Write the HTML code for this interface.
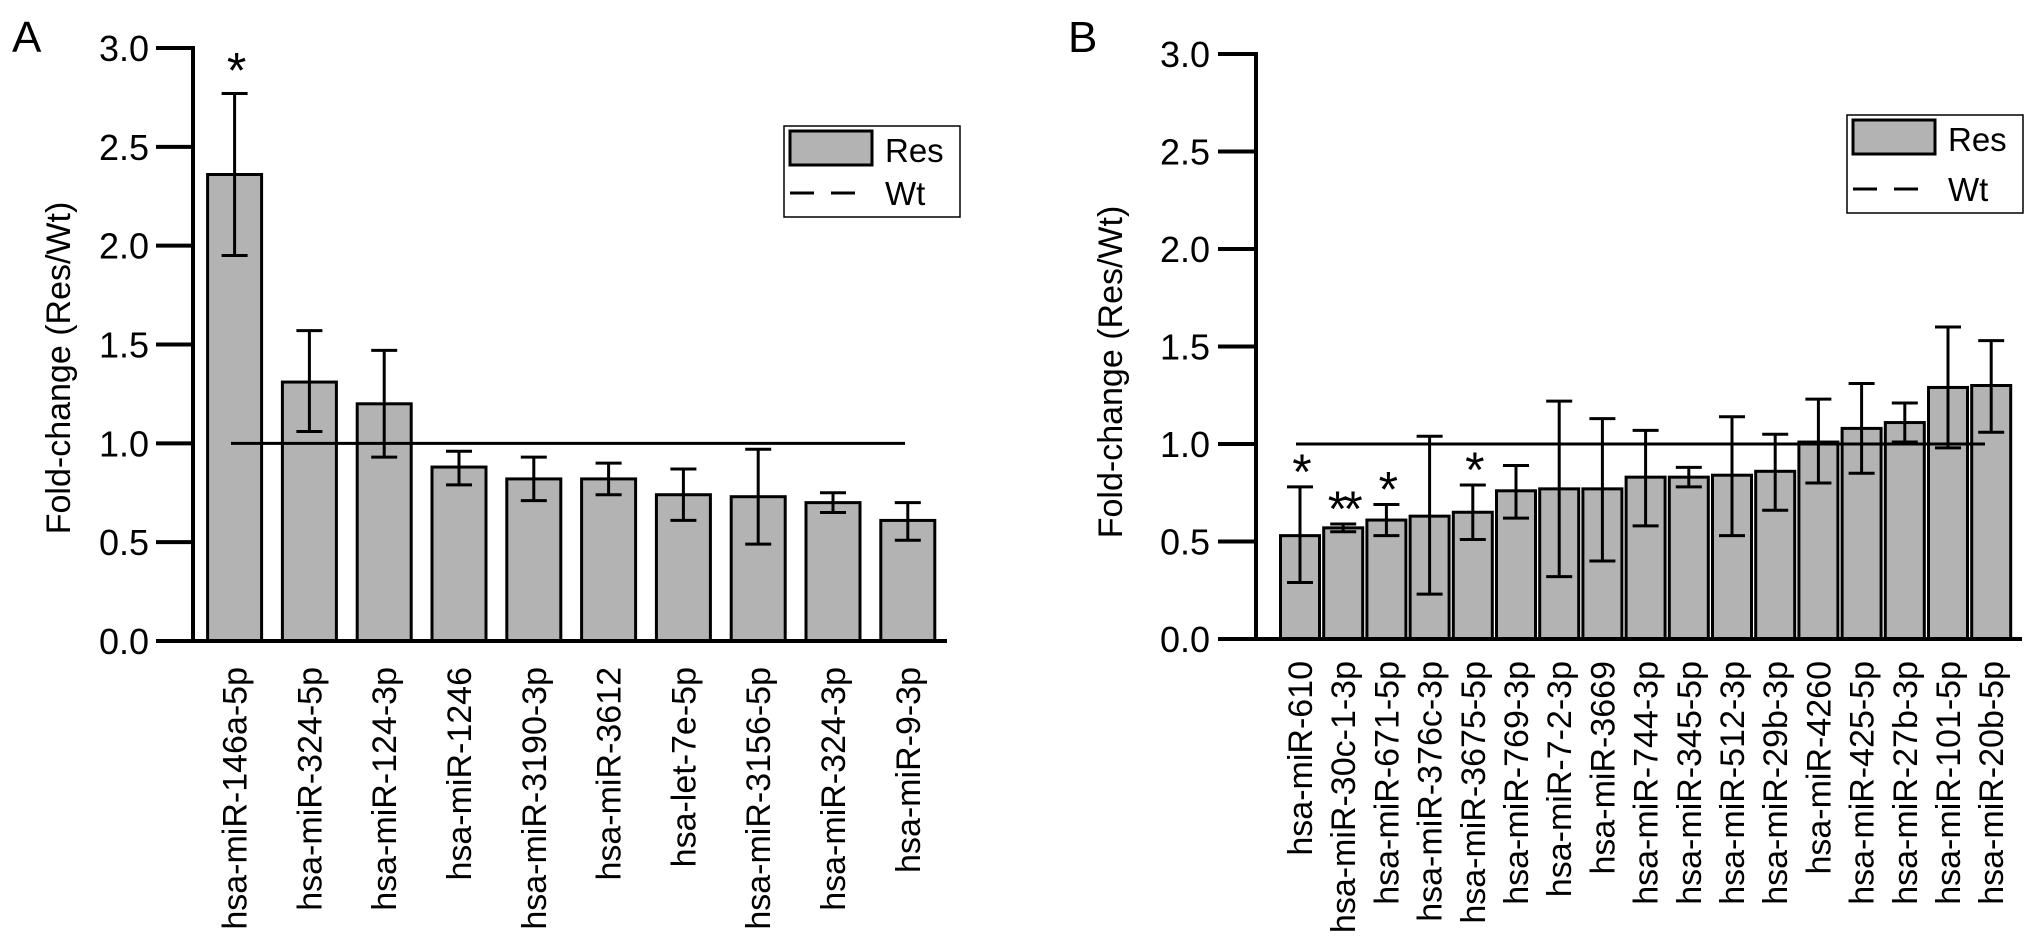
<!DOCTYPE html>
<html><head><meta charset="utf-8"><style>
html,body{margin:0;padding:0;background:#fff;}
svg{display:block;font-family:"Liberation Sans",Arial,sans-serif;}
</style></head><body>
<svg id="fig" width="2032" height="947" viewBox="0 0 2032 947" xmlns="http://www.w3.org/2000/svg">
<text x="12" y="52" font-size="44">A</text>
<text x="1068" y="52" font-size="44">B</text>
</svg>
<script>
const catsA=["hsa-miR-146a-5p","hsa-miR-324-5p","hsa-miR-124-3p","hsa-miR-1246","hsa-miR-3190-3p","hsa-miR-3612","hsa-let-7e-5p","hsa-miR-3156-5p","hsa-miR-324-3p","hsa-miR-9-3p"];
const valsA=[2.36,1.31,1.20,0.88,0.82,0.82,0.74,0.73,0.70,0.61];
const loA=[1.95,1.06,0.93,0.79,0.71,0.74,0.61,0.49,0.65,0.51];
const hiA=[2.77,1.57,1.47,0.96,0.93,0.90,0.87,0.97,0.75,0.70];
const starsA=["*","","","","","","","","",""];
const catsB=["hsa-miR-610","hsa-miR-30c-1-3p","hsa-miR-671-5p","hsa-miR-376c-3p","hsa-miR-3675-5p","hsa-miR-769-3p","hsa-miR-7-2-3p","hsa-miR-3669","hsa-miR-744-3p","hsa-miR-345-5p","hsa-miR-512-3p","hsa-miR-29b-3p","hsa-miR-4260","hsa-miR-425-5p","hsa-miR-27b-3p","hsa-miR-101-5p","hsa-miR-20b-5p"];
const valsB=[0.53,0.57,0.61,0.63,0.65,0.76,0.77,0.77,0.83,0.83,0.84,0.86,1.01,1.08,1.11,1.29,1.30];
const loB=[0.29,0.55,0.53,0.23,0.51,0.62,0.32,0.40,0.58,0.78,0.53,0.66,0.80,0.85,1.01,0.98,1.06];
const hiB=[0.78,0.59,0.69,1.04,0.79,0.89,1.22,1.13,1.07,0.88,1.14,1.05,1.23,1.31,1.21,1.60,1.53];
const starsB=["*","**","*","","*","","","","","","","","","","","",""];
const yTicks=[0,0.5,1.0,1.5,2.0,2.5,3.0];
const wtRef=1.0;

const NS="http://www.w3.org/2000/svg";
const svg=document.getElementById('fig');
function mk(tag,attrs,parent){const e=document.createElementNS(NS,tag);for(const k in attrs)e.setAttribute(k,attrs[k]);(parent||svg).appendChild(e);return e;}

function panel(p){
  const g=mk('g',{});
  
  
  const y=v=>p.y0-(v/3)*(p.y0-p.y3);
  const x=i=>p.x0+i*p.dx;
  p.cats.forEach((c,i)=>{
    const r=mk('rect',{x:x(i)-p.bw/2,y:y(p.vals[i]),width:p.bw,height:y(0)-y(p.vals[i]),fill:'#b3b3b3',stroke:'#000','stroke-width':3},g);
    
    
  });
  const wl=mk('line',{x1:p.wx1,x2:p.wx2,y1:y(wtRef),y2:y(wtRef),stroke:'#000','stroke-width':3},g);
  
  
  p.cats.forEach((c,i)=>{
    const eg=mk('g',{stroke:'#000','stroke-width':3},g);
    
    
    mk('line',{x1:x(i),x2:x(i),y1:y(p.lo[i]),y2:y(p.hi[i])},eg);
    mk('line',{x1:x(i)-p.cap,x2:x(i)+p.cap,y1:y(p.lo[i]),y2:y(p.lo[i])},eg);
    mk('line',{x1:x(i)-p.cap,x2:x(i)+p.cap,y1:y(p.hi[i]),y2:y(p.hi[i])},eg);
    if(p.stars[i]){
      const t=mk('text',{x:x(i),y:y(p.hi[i])+(p.name==='panel-a-chart'?-6:2),'font-size':50,'text-anchor':'middle','letter-spacing':'-4'},g);
      t.textContent=p.stars[i];
      
      
    }
    const lt=mk('text',{transform:`translate(${x(i)+12},${p.labTop}) rotate(-90)`,'font-size':34,'text-anchor':'end'},g);
    lt.textContent=c;
    
    
  });
  const ya=mk('line',{x1:p.ax,x2:p.ax,y1:y(3)-2,y2:y(0),stroke:'#000','stroke-width':4},g);
  
  
  const xa=mk('line',{x1:p.tickX,x2:p.xEnd,y1:y(0),y2:y(0),stroke:'#000','stroke-width':4},g);
  
  
  yTicks.forEach(v=>{
    mk('line',{x1:p.tickX,x2:p.ax,y1:y(v),y2:y(v),stroke:'#000','stroke-width':4},g);
    const t=mk('text',{x:p.tickLab,y:y(v)+13,'font-size':36,'text-anchor':'end'},g);
    t.textContent=v.toFixed(1);
    
    
  });
  const yt=mk('text',{transform:`translate(${p.titleX},${p.titleY}) rotate(-90)`,'font-size':34,'text-anchor':'middle'},g);
  yt.textContent='Fold-change (Res/Wt)';
  
  
  const L=p.leg;
  const lg=mk('g',{},g);
  
  
  mk('rect',{x:L.x,y:L.y,width:176,height:L.h,fill:'#fff',stroke:'#000','stroke-width':1.5},lg);
  mk('rect',{x:L.x+6,y:L.y+5,width:82,height:34,fill:'#b3b3b3',stroke:'#000','stroke-width':3},lg);
  const r1=mk('text',{x:L.x+101,y:L.y+36,'font-size':33},lg);r1.textContent='Res';
  
  
  mk('line',{x1:L.x+6,x2:L.x+71,y1:L.y+L.h-24,y2:L.y+L.h-24,stroke:'#000','stroke-width':3,'stroke-dasharray':'24 17'},lg);
  const r2=mk('text',{x:L.x+101,y:L.y+L.h-12,'font-size':33},lg);r2.textContent='Wt';
  
  
}
panel({name:'panel-a-chart',cats:catsA,vals:valsA,lo:loA,hi:hiA,stars:starsA,y0:641,y3:48,x0:234.6,dx:74.8,bw:54,cap:13,wx1:231,wx2:905,ax:193,tickX:156,xEnd:947,tickLab:149,titleX:70,titleY:368,labTop:667,leg:{x:784,y:126,h:91}});
panel({name:'panel-b-chart',cats:catsB,vals:valsB,lo:loB,hi:hiB,stars:starsB,y0:639,y3:54,x0:1300,dx:43.2,bw:39,cap:13,wx1:1296,wx2:1985,ax:1256,tickX:1218,xEnd:2022,tickLab:1210,titleX:1122,titleY:372,labTop:661,leg:{x:1847,y:115,h:98}});
</script>
</body></html>
